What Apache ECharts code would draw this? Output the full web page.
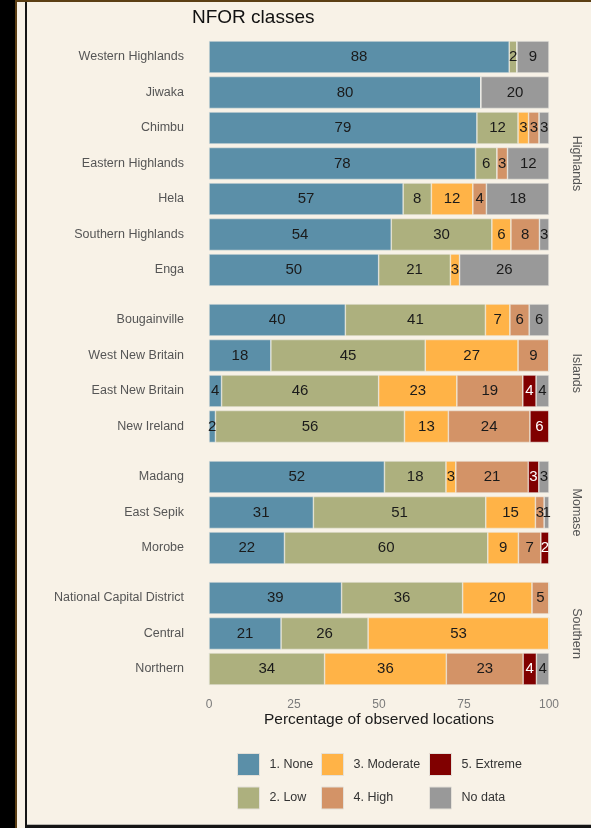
<!DOCTYPE html>
<html>
<head>
<meta charset="utf-8">
<title>NFOR classes</title>
<script src="https://cdn.jsdelivr.net/npm/echarts@6/dist/echarts.min.js"></script>
<style>
    body { margin: 0; background: #f8f2e7; }
    #page { position: relative; width: 591px; height: 828px; overflow: hidden; background: #f8f2e7; }
    .edge { position: absolute; }
    #chart { position: absolute; left: 0; top: 0; width: 591px; height: 828px; }
</style>
</head>
<body>
<div id="page">
    <div class="edge" style="left:0;top:0;width:15px;height:828px;background:#000"></div>
    <div class="edge" style="left:15px;top:0;width:2px;height:828px;background:#5c3f14"></div>
    <div class="edge" style="left:15px;top:0;width:576px;height:2px;background:#5c3f14"></div>
    <div class="edge" style="left:25px;top:2px;width:2px;height:826px;background:#151515"></div>
    <div class="edge" style="left:27px;top:824px;width:564px;height:1px;background:#b9b6b0"></div>
    <div class="edge" style="left:27px;top:825px;width:564px;height:3px;background:#151515"></div>
    <div id="chart"></div>
</div>
<script>
// NFOR classes by province, % of observed locations
var classNames = ['1. None', '2. Low', '3. Moderate', '4. High', '5. Extreme', 'No data'];
var classColors = ['#5b8fa8', '#adb07e', '#ffb347', '#d39367', '#800000', '#999999'];

var regionNames = ['Highlands', 'Islands', 'Momase', 'Southern'];

var highlandsProvinces = ['Western Highlands', 'Jiwaka', 'Chimbu', 'Eastern Highlands', 'Hela', 'Southern Highlands', 'Enga'];
var highlandsShares = [
    [88.3, 2.3, 0, 0, 0, 9.4],
    [80.0, 0, 0, 0, 0, 20.0],
    [78.8, 12.1, 3.1, 3.1, 0, 2.9],
    [78.4, 6.3, 0, 3.1, 0, 12.2],
    [57.1, 8.3, 12.2, 4.0, 0, 18.4],
    [53.6, 29.6, 5.6, 8.4, 0, 2.8],
    [49.9, 21.1, 2.7, 0, 0, 26.3]
];

var islandsProvinces = ['Bougainville', 'West New Britain', 'East New Britain', 'New Ireland'];
var islandsShares = [
    [40.1, 41.2, 7.2, 5.7, 0, 5.8],
    [18.2, 45.4, 27.3, 9.1, 0, 0],
    [3.7, 46.2, 23.0, 19.4, 3.9, 3.8],
    [1.9, 55.6, 12.9, 24.0, 5.6, 0]
];

var momaseProvinces = ['Madang', 'East Sepik', 'Morobe'];
var momaseShares = [
    [51.6, 18.1, 2.9, 21.3, 3.1, 3.0],
    [30.7, 50.7, 14.6, 2.6, 0, 1.4],
    [22.2, 59.8, 9.0, 6.6, 2.4, 0]
];

var southernProvinces = ['National Capital District', 'Central', 'Northern'];
var southernShares = [
    [39.0, 35.6, 20.4, 5.0, 0, 0],
    [21.2, 25.6, 53.2, 0, 0, 0],
    [0, 34.0, 35.8, 22.6, 3.9, 3.7]
];

var xTicks = [0, 25, 50, 75, 100];

var font = 'Liberation Sans, Arial, sans-serif';
var rowHeight = 35.5;
var panelTops = [39.25, 302.25, 459.25, 580.25];
var panels = [
    {provinces: highlandsProvinces, shares: highlandsShares},
    {provinces: islandsProvinces, shares: islandsShares},
    {provinces: momaseProvinces, shares: momaseShares},
    {provinces: southernProvinces, shares: southernShares}
];

var grids = [], xAxes = [], yAxes = [], series = [], strips = [];

panels.forEach(function (p, i) {
    var h = p.provinces.length * rowHeight;
    var last = i === panels.length - 1;
    grids.push({left: 209, right: 42, top: panelTops[i], height: h});
    xAxes.push({
        type: 'value',
        gridIndex: i,
        min: 0,
        max: 100,
        interval: 25,
        axisLine: {show: false},
        axisTick: {show: false},
        splitLine: {show: false},
        axisLabel: {
            show: last,
            color: '#7a7a7a',
            fontSize: 12,
            fontFamily: font,
            margin: 12,
            formatter: function (v) { return xTicks.indexOf(v) >= 0 ? String(v) : ''; }
        },
        name: last ? 'Percentage of observed locations' : '',
        nameLocation: 'middle',
        nameGap: 25,
        nameTextStyle: {color: '#1a1a1a', fontSize: 15.5, fontFamily: font}
    });
    yAxes.push({
        type: 'category',
        gridIndex: i,
        inverse: true,
        data: p.provinces,
        axisLine: {show: false},
        axisTick: {show: false},
        axisLabel: {color: '#555555', fontSize: 12.5, fontFamily: font, margin: 25}
    });
    classNames.forEach(function (name, k) {
        series.push({
            name: name,
            type: 'bar',
            stack: 'panel' + i,
            xAxisIndex: i,
            yAxisIndex: i,
            barWidth: '90%',
            color: classColors[k],
            itemStyle: {borderColor: 'rgba(236,234,228,0.9)', borderWidth: 0.6},
            label: {
                show: true,
                position: 'inside',
                color: k === 4 ? '#ffffff' : '#1a1a1a',
                fontSize: 15,
                fontFamily: font,
                formatter: function (d) { return d.value > 0 ? Math.round(d.value) : ''; }
            },
            emphasis: {disabled: true},
            data: p.shares.map(function (row) { return row[k]; })
        });
    });
    strips.push({
        type: 'text',
        x: 576,
        y: panelTops[i] + h / 2,
        rotation: -Math.PI / 2,
        style: {
            text: regionNames[i],
            fill: '#555555',
            fontSize: 12.5,
            fontFamily: font,
            textAlign: 'center',
            textVerticalAlign: 'middle'
        }
    });
});

function legendBlock(left, names) {
    return {
        left: left,
        top: 753,
        padding: 0,
        orient: 'vertical',
        itemWidth: 22,
        itemHeight: 22,
        itemGap: 10.5,
        icon: 'rect',
        itemStyle: {borderColor: '#e4e0d8', borderWidth: 1},
        textStyle: {color: '#333333', fontSize: 12.5, fontFamily: font, padding: [0, 0, 0, 5]},
        data: names
    };
}

var myChart = echarts.init(document.getElementById('chart'), null, {renderer: 'canvas'});

option = {
    backgroundColor: 'transparent',
    animation: false,
    title: {
        text: 'NFOR classes',
        left: 187,
        top: 3,
        textStyle: {color: '#111111', fontSize: 19, fontWeight: 'normal', fontFamily: font}
    },
    legend: [
        legendBlock(237, ['1. None', '2. Low']),
        legendBlock(321, ['3. Moderate', '4. High']),
        legendBlock(429, ['5. Extreme', 'No data'])
    ],
    grid: grids,
    xAxis: xAxes,
    yAxis: yAxes,
    series: series,
    graphic: strips
};

myChart.setOption(option);

window.addEventListener('resize', function () {
    myChart.resize();
});
</script>
</body>
</html>
